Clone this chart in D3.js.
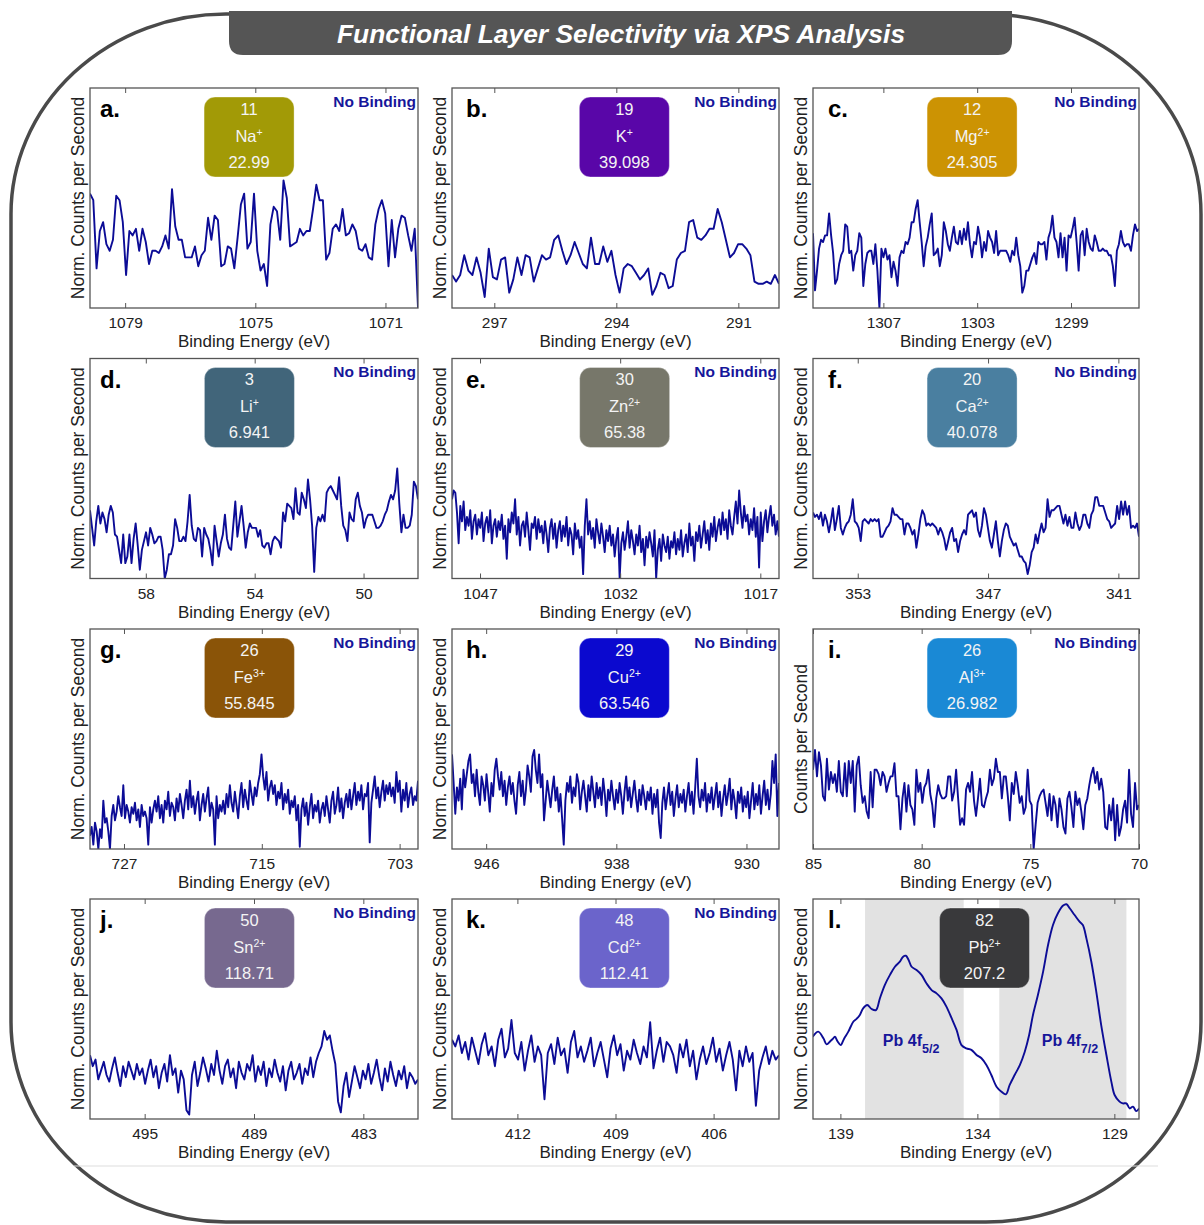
<!DOCTYPE html>
<html><head><meta charset="utf-8">
<script src="https://cdn.jsdelivr.net/npm/d3@7"></script>
<style>
body{margin:0;background:#fff;}
svg{display:block;font-family:"Liberation Sans",Arial,Helvetica,sans-serif;}
</style>
</head><body>
<svg id="chart" width="1204" height="1225"></svg>
<script>
// ---------------- DATA ----------------
const chartTitle = "Functional Layer Selectivity via XPS Analysis";
const panelLetters = ["a.","b.","c.","d.","e.","f.","g.","h.","i.","j.","k.","l."];
const atomicNumbers = ["11","19","12","3","30","20","26","29","26","50","48","82"];
const ionSymbols = ["Na","K","Mg","Li","Zn","Ca","Fe","Cu","Al","Sn","Cd","Pb"];
const ionCharges = ["+","+","2+","+","2+","2+","3+","2+","3+","2+","2+","2+"];
const atomicMasses = ["22.99","39.098","24.305","6.941","65.38","40.078","55.845","63.546","26.982","118.71","112.41","207.2"];
const bindingNotes = ["No Binding","No Binding","No Binding","No Binding","No Binding","No Binding","No Binding","No Binding","No Binding","No Binding","No Binding",""];
const yAxisTitles = ["Norm. Counts per Second","Norm. Counts per Second","Norm. Counts per Second","Norm. Counts per Second","Norm. Counts per Second","Norm. Counts per Second","Norm. Counts per Second","Norm. Counts per Second","Counts per Second","Norm. Counts per Second","Norm. Counts per Second","Norm. Counts per Second"];
const xAxisTitle = "Binding Energy (eV)";
// recorded energy window of each spectrum (eV), high -> low
const energyWindows = [[1080.08,1070],[298.04,290],[1310,1296.1],[60.05,48],[1050,1015],[355.06,340.05],[729.96,701.4],[948.1,928],[85,70],[498,480],[414,404],[140,128.1]];
const tickEnergies = [[1079,1075,1071],[297,294,291],[1307,1303,1299],[58,54,50],[1047,1032,1017],[353,347,341],[727,715,703],[946,938,930],[85,80,75,70],[495,489,483],[412,409,406],[139,134,129]];

// normalized counts (0-100 of axis height), evenly spaced across each energy window
const countsNa = [52,49,18,35,39,29,26,31,51,49,39,15,35,33,36,26,36,30,20,26,26,25,28,33,27,54,37,31,31,23,23,23,28,19,24,26,41,31,42,40,19,20,28,27,18,32,47,52,27,30,52,26,17,20,10,38,46,44,31,58,50,28,29,30,36,33,35,35,45,56,49,49,22,25,36,38,35,45,33,34,38,35,27,26,29,23,22,38,45,49,43,19,40,23,36,42,41,33,26,36,0];
const countsK = [15,12,15,24,17,15,23,16,5,27,14,13,22,23,7,13,23,15,24,23,12,18,24,22,23,31,33,26,20,24,30,25,20,18,32,20,20,28,21,26,15,7,18,20,19,16,13,15,18,6,10,16,15,9,10,22,25,26,39,40,32,31,33,36,36,45,39,31,23,25,29,29,27,24,12,11,11,12,11,15,11];
const countsMg = [34,8,17,27,31,30,33,33,43,33,25,11,13,20,24,26,38,37,25,26,17,24,26,34,32,10,20,25,26,26,20,29,17,0,27,23,27,22,24,14,21,17,10,23,26,25,30,29,32,39,39,45,49,39,30,19,28,32,38,43,24,25,27,19,24,39,35,29,26,32,37,30,29,35,29,36,31,39,29,23,30,29,37,32,23,30,26,35,32,30,25,35,24,26,26,26,26,24,21,26,24,32,24,19,7,10,17,17,20,23,25,20,30,29,29,30,22,32,35,42,32,30,23,34,23,32,17,33,32,36,41,30,17,33,35,24,36,30,27,26,33,30,26,26,27,26,26,24,24,19,10,26,29,35,30,28,29,29,26,33,38,35,36];
const countsLi = [31,23,15,26,33,25,30,27,21,29,33,30,20,19,13,7,20,7,10,20,7,18,25,15,4,13,17,21,15,23,20,16,17,19,19,13,0,4,11,11,15,27,23,17,17,19,17,26,38,24,18,17,23,22,10,23,20,18,13,6,24,17,10,16,20,29,18,14,13,24,35,19,26,33,24,14,21,25,23,23,23,19,22,15,14,16,16,11,17,19,18,17,14,30,26,34,33,32,27,41,30,29,39,36,32,45,36,24,3,23,28,26,29,26,39,41,42,40,38,36,46,33,24,22,17,30,27,26,36,39,33,30,23,27,29,29,29,26,23,23,24,26,29,31,35,38,36,40,50,34,21,29,23,23,24,29,44,42,36];
const countsZn = [36,40,39,30,16,33,26,35,22,28,24,31,18,26,29,20,27,23,30,17,25,28,21,31,16,24,27,19,
26,22,29,18,24,9,27,21,30,25,36,20,28,15,24,26,19,30,22,13,25,23,28,18,27,21,
24,16,26,20,12,23,27,18,25,14,22,26,17,24,19,28,15,23,20,11,25,18,22,14,19,2,
24,36,20,26,18,23,14,27,21,16,25,19,12,22,17,24,15,20,10,18,23,0,16,21,13,19,26,14,
22,17,11,20,15,24,12,18,6,19,14,21,16,10,22,0,13,18,8,20,15,12,19,9,17,14,21,11,
18,13,22,10,16,20,12,25,15,19,8,21,17,24,14,20,26,16,22,13,25,19,28,17,23,27,20,30,
22,27,18,31,24,20,28,35,25,40,30,23,33,26,29,20,27,22,32,19,28,5,30,17,26,31,21,28,33,24,29,20,26,19];
const countsCa = [30,28,29,27,30,24,29,26,21,26,32,22,27,33,23,20,23,25,26,29,36,26,25,23,17,26,27,26,25,27,26,27,26,27,19,19,21,23,24,26,32,29,29,28,27,27,20,25,25,23,20,22,14,20,27,31,29,24,25,24,25,24,23,20,23,21,18,13,17,21,23,17,18,12,17,20,22,20,29,30,31,28,30,22,19,24,32,29,23,17,14,20,26,17,10,17,22,25,24,19,17,15,16,13,10,10,8,7,2,6,12,14,20,16,21,25,21,23,36,28,31,31,32,33,33,29,25,29,24,28,23,23,30,25,22,24,29,29,25,23,29,31,37,37,33,33,33,30,27,26,23,24,25,33,27,35,29,35,29,33,23,24,23,25,19];
const countsFe = [6,10,2,12,8,0,9,5,22,12,14,8,0,15,20,13,17,24,19,15,
29,14,20,17,12,19,16,21,13,18,10,20,15,17,14,2,19,12,18,22,
17,24,14,20,12,22,18,26,15,21,19,13,23,17,25,20,14,22,27,18,
31,19,24,16,22,26,13,20,25,17,23,28,15,21,18,2,24,14,20,17,
22,16,25,19,29,21,17,26,20,14,24,30,19,27,22,18,31,25,20,28,
24,30,34,43,33,27,35,22,28,31,25,29,20,26,23,30,18,25,21,27,
16,22,19,24,13,20,1,18,23,15,21,11,19,25,14,20,17,22,12,18,
21,15,24,18,12,22,26,16,20,28,17,23,14,21,25,19,27,18,24,30,
20,26,22,29,18,25,24,30,3,21,27,33,23,28,19,26,31,22,29,25,
30,24,28,21,35,26,31,17,27,22,30,19,25,28,20,24,22,31];
const countsCu = [43,30,16,28,22,32,18,36,28,34,40,43,30,34,24,36,26,20,33,29,
22,34,26,17,30,24,36,41,33,27,35,24,31,20,28,33,25,30,22,16,
29,35,24,31,20,27,38,33,26,42,45,36,30,43,28,34,13,22,31,25,
19,27,33,22,28,17,25,14,2,22,30,26,33,21,28,24,34,30,18,26,
31,24,17,29,22,33,26,19,30,23,28,20,32,25,15,27,22,31,24,18,
27,21,30,24,16,26,33,22,28,19,25,31,23,17,27,20,29,24,18,26,
22,28,16,25,19,27,12,5,21,28,18,24,30,20,26,15,23,29,19,25,
21,27,17,24,30,20,26,16,28,41,24,19,27,22,30,17,25,21,28,18,
24,30,19,26,15,23,29,20,25,32,18,27,22,14,26,21,28,17,24,19,
26,14,22,30,18,25,20,29,16,24,31,20,27,18,25,40,30,43,15,30];
const countsAl = [36,45,33,44,38,24,22,41,27,35,30,34,26,40,26,24,39,24,40,30,40,17,38,42,29,21,24,17,14,35,19,36,36,34,29,35,33,26,30,33,33,39,24,24,9,23,30,17,29,20,18,11,36,26,30,21,28,30,36,25,20,10,23,29,25,23,23,24,33,33,22,26,36,23,11,14,11,27,30,26,35,22,15,23,32,20,19,23,26,36,29,32,41,35,35,23,33,33,24,13,30,25,35,29,21,24,16,19,36,22,20,0,11,21,24,26,27,21,15,25,13,24,20,10,23,18,10,7,23,26,19,10,26,20,23,17,9,20,23,29,34,37,30,35,27,32,26,10,9,20,13,23,4,20,6,10,18,22,12,36,16,10,30,18,20];
const countsSn = [29,24,27,18,22,26,20,17,23,28,21,15,24,19,26,22,18,25,20,23,16,22,
27,19,24,14,21,25,17,29,20,23,12,22,18,4,2,20,26,15,
21,28,23,17,25,20,31,22,16,24,27,19,23,14,26,21,18,25,22,29,17,24,
20,26,15,23,19,27,21,17,24,13,22,26,18,21,25,16,23,20,28,19,26,30,
33,40,36,38,31,25,8,3,15,21,10,17,24,19,14,
22,18,25,16,21,27,19,13,23,17,26,20,15,22,18,24,14,21,19,16,18];
const countsCd = [36,33,38,30,35,27,37,31,25,34,39,29,33,24,36,41,28,32,45,30,27,35,22,31,38,26,33,29,9,30,
34,25,37,29,32,21,35,40,28,33,26,31,37,24,30,35,27,19,32,38,29,34,22,31,27,36,30,25,33,28,
44,23,31,37,26,35,33,29,21,34,28,36,24,31,18,27,33,25,30,37,26,32,22,29,35,27,13,31,24,33,
26,30,6,22,28,33,25,31,27,29];
// Pb 4f spectrum (explicit energies)
const pbEnergy = [140.01,139.81,139.62,139.50,139.38,139.28,139.20,139.10,138.99,138.87,138.71,138.53,138.41,138.29,138.17,138.02,137.86,137.70,137.56,137.38,137.19,137.01,136.83,136.71,136.61,136.51,136.40,136.22,136.04,135.86,135.67,135.49,135.31,135.13,134.94,134.76,134.58,134.40,134.22,134.03,133.85,133.67,133.49,133.30,133.12,132.96,132.82,132.64,132.45,132.27,132.11,131.97,131.79,131.60,131.42,131.24,131.06,130.87,130.75,130.63,130.45,130.27,130.15,130.02,129.84,129.66,129.48,129.29,129.11,128.99,128.81,128.69,128.56,128.44,128.32,128.20,128.10];
const pbCounts = [37.4,39.7,36.7,33.9,35.2,36.4,37.4,35.2,33.6,36.4,39.7,44.2,45.5,47.3,50.3,51.8,50.0,49.5,54.8,60.9,65.5,69.2,71.5,73.8,74.2,72.3,69.2,67.7,65.5,61.7,58.6,57.1,54.8,51.1,45.8,40.5,33.6,32.1,31.4,29.1,27.6,24.5,20.0,14.7,12.4,11.2,15.5,20.0,24.5,30.6,38.2,47.3,56.4,67.0,79.1,88.2,93.5,97.0,97.6,95.8,92.7,89.7,88.2,82.1,71.5,57.9,42.7,29.1,17.0,10.9,7.9,7.1,7.1,4.8,5.6,3.6,4.8];
const pbPeakRegions = [[138.1,134.5],[133.2,128.56]];
const pbPeakLabels = ["Pb 4f","Pb 4f"];
const pbPeakSubscripts = ["5/2","7/2"];
const pbLabelEnergies = [137.45,131.65];
const pbLabelLevels = [33,33];

const spectraCounts = [countsNa,countsK,countsMg,countsLi,countsZn,countsCa,countsFe,countsCu,countsAl,countsSn,countsCd,pbCounts];

// ---------------- STYLE / LAYOUT ----------------
const boxColors = ["#a29a06","#5906a8","#cc9303","#41657a","#77776a","#4a7fa0","#8a5408","#0b09cf","#1a89d5","#77698f","#6b64cb","#39393b"];
const boxCenterFrac = [0.485,0.527,0.488,0.486,0.528,0.488,0.486,0.527,0.488,0.486,0.527,0.526];
const colLeft = [90,452,813], colRight = [418,779,1139];
const rowTop = [88,358.5,629,899], plotH = 220;
const letterOffset = [10,14,15];
const lineColor = "#0c0c96", noteColor = "#16169a", axisColor = "#555";

const svg = d3.select("#chart");

// outer rounded frame
svg.append("rect").attr("x",11).attr("y",14).attr("width",1190).attr("height",1208)
  .attr("rx",215).attr("ry",200).attr("fill","none").attr("stroke","#4a4a4a").attr("stroke-width",3.5);
// faint divider line
svg.append("line").attr("x1",74).attr("x2",1158).attr("y1",1166).attr("y2",1166)
  .attr("stroke","#dedede").attr("stroke-width",1.2);

// title banner
svg.append("path").attr("d","M229,11 H1012 V41 Q1012,55 998,55 H243 Q229,55 229,41 Z").attr("fill","#555555");
svg.append("text").attr("x",621).attr("y",43).attr("text-anchor","middle")
  .attr("fill","#fff").attr("font-size",26.4).attr("font-weight","bold").attr("font-style","italic")
  .text(chartTitle);

const defs = svg.append("defs");

spectraCounts.forEach((counts,i)=>{
  const col = i%3, row = Math.floor(i/3);
  const x0 = colLeft[col], x1 = colRight[col], y0 = rowTop[row], y1 = y0+plotH;
  const x = d3.scaleLinear().domain(energyWindows[i]).range([x0,x1]);
  const y = d3.scaleLinear().domain([0,100]).range([y1,y0]);
  const g = svg.append("g");

  defs.append("clipPath").attr("id","clip"+i).append("rect")
    .attr("x",x0).attr("y",y0).attr("width",x1-x0).attr("height",plotH);

  let energies;
  if (i===11) {
    energies = pbEnergy;
    g.selectAll("rect.peak").data(pbPeakRegions).enter().append("rect")
      .attr("x",d=>x(d[0])).attr("width",d=>x(d[1])-x(d[0]))
      .attr("y",y0).attr("height",plotH).attr("fill","#e2e2e2");
  } else {
    const [e0,e1] = energyWindows[i];
    const n = counts.length;
    energies = counts.map((_,k)=> e0 + (e1-e0)*k/(n-1));
  }
  const pts = counts.map((c,k)=>[energies[k],c]);
  const line = d3.line().x(d=>x(d[0])).y(d=>y(d[1]));
  if (i===11) line.curve(d3.curveCatmullRom.alpha(0.5));
  g.append("path").datum(pts).attr("d",line).attr("fill","none")
    .attr("stroke",lineColor).attr("stroke-width",1.9).attr("stroke-linejoin","round")
    .attr("clip-path",`url(#clip${i})`);

  // axes (inward ticks top & bottom)
  const bx = g.append("g").attr("transform",`translate(0,${y1})`)
    .call(d3.axisBottom(x).tickValues(tickEnergies[i]).tickSize(-5).tickPadding(9).tickFormat(d3.format("d")));
  bx.select(".domain").remove();
  bx.selectAll("line").attr("stroke",axisColor);
  bx.selectAll("text").attr("font-size",15.5).attr("fill","#222").attr("font-family",null);
  const tx = g.append("g").attr("transform",`translate(0,${y0})`)
    .call(d3.axisTop(x).tickValues(tickEnergies[i]).tickSize(-5).tickFormat(""));
  tx.select(".domain").remove();
  tx.selectAll("line").attr("stroke",axisColor);

  g.append("rect").attr("x",x0).attr("y",y0).attr("width",x1-x0).attr("height",plotH)
    .attr("fill","none").attr("stroke",axisColor).attr("stroke-width",1.3);

  // axis titles
  g.append("text").attr("x",(x0+x1)/2).attr("y",y1+39).attr("text-anchor","middle")
    .attr("font-size",17).attr("fill","#222").text(xAxisTitle);
  g.append("text").attr("transform",`translate(${x0-6},${(y0+y1)/2}) rotate(-90)`)
    .attr("text-anchor","middle").attr("font-size",17.5).attr("fill","#222").text(yAxisTitles[i]);

  // panel letter
  g.append("text").attr("x",x0+letterOffset[col]).attr("y",y0+29).attr("font-size",24)
    .attr("font-weight","bold").attr("fill","#000").text(panelLetters[i]);

  // binding note
  if (bindingNotes[i]) {
    g.append("text").attr("x",x1-2).attr("y",y0+18.5).attr("text-anchor","end")
      .attr("font-size",15.5).attr("font-weight","bold").attr("fill",noteColor).text(bindingNotes[i]);
  }

  // element box
  const bxC = x0 + boxCenterFrac[i]*(x1-x0), bTop = y0+9;
  g.append("rect").attr("x",bxC-45).attr("y",bTop).attr("width",90).attr("height",80)
    .attr("rx",11).attr("fill",boxColors[i]).attr("stroke","rgba(255,255,255,0.35)").attr("stroke-width",1);
  g.append("text").attr("x",bxC).attr("y",bTop+17.5).attr("text-anchor","middle")
    .attr("font-size",16.5).attr("fill","#f4f4f4").text(atomicNumbers[i]);
  const ion = g.append("text").attr("x",bxC).attr("y",bTop+44.5).attr("text-anchor","middle")
    .attr("font-size",16.5).attr("fill","#f4f4f4");
  ion.append("tspan").text(ionSymbols[i]);
  ion.append("tspan").attr("font-size",10.5).attr("dy",-6).text(ionCharges[i]);
  g.append("text").attr("x",bxC).attr("y",bTop+70.5).attr("text-anchor","middle")
    .attr("font-size",16.5).attr("fill","#f4f4f4").text(atomicMasses[i]);

  if (i===11) {
    pbPeakLabels.forEach((lab,k)=>{
      const t = g.append("text").attr("x",x(pbLabelEnergies[k])).attr("y",y(pbLabelLevels[k]))
        .attr("font-size",16).attr("font-weight","bold").attr("fill",noteColor);
      t.append("tspan").text(lab);
      t.append("tspan").attr("font-size",12.5).attr("dy",7).text(pbPeakSubscripts[k]);
    });
  }
});
</script>
</body></html>
